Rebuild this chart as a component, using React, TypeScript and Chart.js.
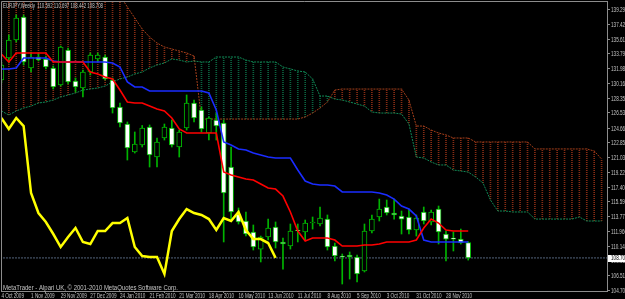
import React, { useEffect, useRef } from 'react';
import { Chart, registerables } from 'chart.js';
Chart.register(...registerables);

const TITLE = 'EURJPY,Weekly  110.592 110.697 108.442 108.708';
const FOOTER = 'MetaTrader - Alpari UK, \u00a9 2001-2010 MetaQuotes Software Corp.';

const DATE_TICK_INDEX = [0, 4, 8, 12, 16, 20, 24, 28, 32, 36, 40, 44, 48, 52, 56, 60];
const DATE_LABELS = ['4 Oct 2009', '1 Nov 2009', '29 Nov 2009', '27 Dec 2009', '24 Jan 2010', '21 Feb 2010', '21 Mar 2010', '18 Apr 2010', '16 May 2010', '13 Jun 2010', '11 Jul 2010', '8 Aug 2010', '5 Sep 2010', '3 Oct 2010', '31 Oct 2010', '28 Nov 2010'];

const Y_TICKS = [139.29, 137.425, 135.61, 133.795, 131.98, 130.165, 128.35, 126.535, 124.665, 122.85, 121.035, 119.22, 117.405, 115.59, 113.775, 111.96, 110.145, 108.33, 106.515, 104.7];
const CURRENT = 108.708;

const OPEN = [130.59,133.30,135.51,138.34,132.07,133.42,133.18,132.07,129.98,134.28,
130.47,129.61,131.58,133.18,133.42,130.59,127.27,125.18,121.74,122.60,
124.81,121.12,123.46,124.69,122.35,124.69,127.76,126.90,124.07,125.67,
125.30,119.89,114.11,113.25,111.90,109.80,111.28,112.51,110.67,110.17,
112.14,111.90,113.00,112.88,113.49,110.17,108.94,109.07,108.82,107.10,
112.02,113.74,114.97,114.23,113.86,113.74,112.14,114.36,113.13,114.72,
111.65,111.10,111.03,110.592];
const HIGH = [132.81,136.13,138.59,138.59,134.04,133.91,133.54,132.32,134.77,134.53,
130.84,131.82,133.91,133.91,133.67,130.84,127.76,125.43,124.20,125.00,
125.06,123.46,125.18,125.67,124.44,128.75,128.13,127.27,126.04,126.53,
125.67,122.35,114.85,114.36,112.76,111.40,113.49,113.13,111.16,112.88,
112.88,113.37,113.74,114.97,113.99,110.54,109.19,109.44,109.07,112.88,
113.99,115.95,115.83,115.95,114.48,114.72,113.99,114.97,114.60,115.09,
112.02,111.90,112.26,110.697];
const LOW = [130.22,132.69,135.27,132.44,131.58,132.93,131.95,129.48,129.85,130.10,
129.12,128.50,131.21,132.81,130.59,126.53,124.81,120.75,121.61,122.35,
119.89,119.89,123.21,122.35,121.12,124.44,125.43,124.20,123.21,123.21,
110.67,113.49,112.88,111.40,109.68,108.21,110.91,109.93,107.34,109.80,
110.67,110.91,112.26,112.63,109.68,108.33,105.50,106.11,105.75,106.98,
111.77,113.25,113.99,113.49,111.65,111.65,111.40,112.88,112.76,110.42,
108.33,109.56,110.42,108.442];
const CLOSE = [132.44,135.51,138.22,132.81,133.42,133.05,132.19,129.73,134.65,130.35,
129.73,131.58,133.67,133.67,130.72,127.15,125.30,122.23,122.72,124.69,
121.37,122.97,124.81,122.60,124.20,127.76,125.92,124.57,125.92,124.93,
116.69,114.36,113.13,111.65,110.05,111.28,112.39,110.67,110.42,112.02,
112.02,113.00,113.00,113.62,110.05,108.94,108.82,108.82,106.73,112.02,
113.49,114.72,114.23,113.99,113.49,112.14,113.62,113.25,114.36,111.90,
111.03,111.03,110.54,108.708];

const TENKAN = [133.79,132.81,133.91,133.91,133.91,133.91,133.91,132.81,132.81,132.81,
132.81,132.81,131.58,131.33,130.96,130.72,129.36,127.89,127.76,127.76,
127.39,127.02,126.78,125.92,124.57,124.07,124.07,124.07,124.07,124.07,
119.28,118.91,118.66,118.41,118.29,117.80,117.31,117.18,116.32,114.36,
112.02,110.79,111.16,111.16,111.16,110.91,110.17,110.17,110.17,110.30,
110.30,110.42,110.67,110.67,110.67,110.67,110.91,112.39,113.49,113.00,
112.14,112.02,112.02,112.02];
const KIJUN = [131.95,131.95,132.07,133.30,133.30,133.30,133.30,132.93,132.81,132.81,
132.81,132.81,132.81,132.81,132.81,132.69,132.19,130.35,129.73,129.73,
129.24,129.24,129.24,129.24,129.24,129.24,129.24,129.24,128.99,126.90,
122.97,122.60,122.11,121.98,121.61,121.37,121.12,121.00,121.00,121.00,
119.52,118.17,117.80,117.68,117.68,117.55,116.82,116.82,116.82,116.82,
116.82,116.69,116.45,115.95,115.09,114.72,113.86,110.91,110.67,110.67,
110.67,110.67,110.67,110.67];
const CHIKOU = [125.92,124.57,125.92,124.93,116.69,114.23,113.13,111.65,110.05,111.28,
112.39,110.67,110.42,112.02,112.02,113.00,113.00,113.62,110.05,108.94,
108.82,108.82,106.73,112.02,113.49,114.72,114.23,113.99,113.49,112.14,
113.62,113.25,114.36,112.14,111.03,111.03,110.54,108.71];
const SPAN_A = [126.78,126.29,126.78,127.15,127.39,127.76,127.89,128.13,128.50,128.75,
128.99,129.36,129.48,129.61,129.85,130.35,130.72,130.96,131.33,131.58,
132.07,132.44,132.69,133.18,133.05,132.81,132.93,132.81,132.81,133.42,
133.42,133.42,133.42,133.05,132.81,132.81,132.81,132.81,132.19,131.95,
131.70,131.58,130.72,128.62,128.62,128.25,128.13,127.89,127.64,127.39,
126.66,126.53,126.53,126.53,126.41,125.18,121.12,121.00,120.51,120.14,
120.14,119.52,119.40,119.27,118.66,117.92,115.83,114.48,114.48,114.36,
114.36,114.36,113.49,113.49,113.49,113.49,113.49,113.49,113.74,113.25,
113.25,113.25];
const SPAN_B = [142.00,142.00,142.00,142.00,142.00,142.00,142.00,142.00,142.00,142.00,
142.00,142.00,142.00,142.00,142.00,141.60,141.00,139.57,138.22,136.86,
135.88,135.14,134.65,134.40,134.16,133.91,133.54,125.79,125.79,125.79,
125.79,125.79,125.79,125.79,125.79,125.79,125.79,125.79,125.79,125.79,
125.79,126.04,126.53,127.15,127.89,129.36,129.48,129.48,129.48,129.48,
129.48,129.48,129.48,129.48,129.48,128.13,124.93,124.93,124.44,124.07,
123.83,123.46,123.46,123.46,122.97,122.97,122.97,122.97,122.97,122.97,
122.97,122.97,122.11,122.11,122.11,122.11,122.11,122.11,122.11,122.11,
121.86,120.87];

const GREEN = '#00b400';
const TEXT = '#c4c4c4';
const FONT = '7px "Liberation Sans", Arial, sans-serif';
const SQUEEZE = 0.66;

function makePattern(color: string): CanvasPattern {
  const c = document.createElement('canvas');
  c.width = 1;
  c.height = 2;
  const g = c.getContext('2d')!;
  g.fillStyle = color;
  g.fillRect(0, 0, 1, 1);
  return g.createPattern(c, 'repeat')!;
}

function drawText(ctx: CanvasRenderingContext2D, text: string, x: number, y: number, sx: number, color = TEXT, baseline: CanvasTextBaseline = 'alphabetic') {
  ctx.save();
  ctx.font = FONT;
  ctx.fillStyle = color;
  ctx.textBaseline = baseline;
  ctx.textAlign = 'left';
  ctx.translate(x, y);
  ctx.scale(sx, 1);
  ctx.fillText(text, 0, 0);
  ctx.restore();
}

function drawFitText(ctx: CanvasRenderingContext2D, text: string, x: number, y: number, width: number) {
  ctx.save();
  ctx.font = FONT;
  const w = ctx.measureText(text).width;
  ctx.restore();
  drawText(ctx, text, x, y, width / w);
}

const decor = {
  id: 'decor',
  beforeDraw(chart: any) {
    const { ctx, width, height } = chart;
    ctx.save();
    ctx.fillStyle = '#000';
    ctx.fillRect(0, 0, width, height);
    ctx.restore();
  },
  afterDraw(chart: any) {
    const { ctx, chartArea } = chart;
    ctx.save();
    ctx.strokeStyle = '#8c8c8c';
    ctx.lineWidth = 1;
    ctx.beginPath();
    ctx.moveTo(chartArea.left + 0.5, chartArea.bottom);
    ctx.lineTo(chartArea.left + 0.5, chartArea.top + 0.5);
    ctx.lineTo(chartArea.right, chartArea.top + 0.5);
    ctx.stroke();
    ctx.restore();

    const xs = chart.scales.x;
    xs.ticks.forEach((t: any) => {
      const k = DATE_TICK_INDEX.indexOf(t.value);
      if (k < 0) return;
      drawText(ctx, DATE_LABELS[k], xs.getPixelForValue(t.value), 298, SQUEEZE);
    });

    const ys = chart.scales.y;
    const lx = chartArea.right + 4;
    ys.ticks.forEach((t: any) => {
      const py = ys.getPixelForValue(t.value);
      const label = Number(t.value).toFixed(3);
      if (t.value === CURRENT) {
        ctx.save();
        ctx.fillStyle = '#ffffff';
        ctx.fillRect(chartArea.right + 1, Math.round(py) - 3, 24, 7);
        ctx.restore();
        drawText(ctx, label, lx, py + 0.5, SQUEEZE, '#000000', 'middle');
      } else {
        drawText(ctx, label, lx, py + 0.5, SQUEEZE, TEXT, 'middle');
      }
    });

    drawFitText(ctx, TITLE, 3, 8, 100);
    drawFitText(ctx, FOOTER, 3, 290, 175);
  },
};

export default function App() {
  const ref = useRef<HTMLCanvasElement>(null);
  useEffect(() => {
    const canvas = ref.current!;
    const greenPat = makePattern('#0a6440');
    const brownPat = makePattern('#862c14');
    const xy = (arr: number[]) => arr.map((v, i) => ({ x: i, y: v }));

    const chart = new Chart(canvas, {
      type: 'bar',
      data: {
        datasets: [
          {
            type: 'line',
            label: 'Chikou',
            data: xy(CHIKOU),
            borderColor: '#ffff00',
            borderWidth: 2.5,
            pointRadius: 0,
            tension: 0,
            order: 1,
          } as any,
          {
            type: 'line',
            label: 'Tenkan',
            data: xy(TENKAN),
            borderColor: '#ff0000',
            borderWidth: 1.6,
            pointRadius: 0,
            tension: 0,
            order: 2,
          },
          {
            type: 'line',
            label: 'Kijun',
            data: xy(KIJUN),
            borderColor: '#1a2cff',
            borderWidth: 1.6,
            pointRadius: 0,
            tension: 0,
            order: 3,
          },
          {
            type: 'bar',
            label: 'Body',
            data: OPEN.map((o, i) => ({ x: i, y: [o, CLOSE[i]] })),
            backgroundColor: (c: any) => (CLOSE[c.dataIndex] < OPEN[c.dataIndex] ? '#ffffff' : '#000000'),
            borderColor: GREEN,
            borderWidth: 1,
            borderSkipped: false,
            barThickness: 5,
            minBarLength: 1,
            grouped: false,
            order: 6,
          } as any,
          {
            type: 'bar',
            label: 'Wick',
            data: LOW.map((l, i) => ({ x: i, y: [l, HIGH[i]] })),
            backgroundColor: GREEN,
            barThickness: 1,
            grouped: false,
            order: 7,
          } as any,
          {
            type: 'line',
            label: 'Bid',
            data: [{ x: -1, y: CURRENT }, { x: 83, y: CURRENT }],
            borderColor: '#55657e',
            borderWidth: 1,
            borderDash: [2, 1],
            pointRadius: 0,
            order: 8,
          },
          {
            type: 'line',
            label: 'Span A',
            data: xy(SPAN_A),
            borderColor: '#108a56',
            borderWidth: 1,
            borderDash: [2, 1],
            pointRadius: 0,
            tension: 0,
            order: 9,
          },
          {
            type: 'line',
            label: 'Span B',
            data: xy(SPAN_B),
            borderColor: '#a23e1a',
            borderWidth: 1,
            borderDash: [2, 1],
            pointRadius: 0,
            tension: 0,
            order: 9,
          },
          {
            type: 'bar',
            label: 'Kumo',
            data: SPAN_A.map((a, i) => ({ x: i, y: [Math.min(a, SPAN_B[i]), Math.max(a, SPAN_B[i])] })),
            backgroundColor: (c: any) => (SPAN_A[c.dataIndex] >= SPAN_B[c.dataIndex] ? greenPat : brownPat),
            barThickness: 1,
            grouped: false,
            order: 10,
          } as any,
        ],
      },
      options: {
        responsive: false,
        devicePixelRatio: 1,
        animation: false,
        events: [],
        layout: { padding: { left: 1, top: 1, right: 0, bottom: 0 } },
        plugins: { legend: { display: false }, tooltip: { enabled: false }, title: { display: false } },
        scales: {
          x: {
            type: 'linear',
            min: -0.054,
            max: 81.73,
            offset: false,
            afterBuildTicks: (scale: any) => {
              scale.ticks = DATE_TICK_INDEX.map((v) => ({ value: v }));
            },
            afterFit: (scale: any) => {
              scale.height = 8;
            },
            ticks: { display: false, autoSkip: false, maxRotation: 0, minRotation: 0 },
            grid: { drawOnChartArea: false, drawTicks: true, tickLength: 2, color: '#8c8c8c' },
            border: { display: true, color: '#8c8c8c' },
          } as any,
          y: {
            type: 'linear',
            position: 'right',
            min: 104.64,
            max: 140.31,
            afterBuildTicks: (scale: any) => {
              scale.ticks = [...Y_TICKS, CURRENT].map((v) => ({ value: v }));
            },
            afterFit: (scale: any) => {
              scale.width = 18;
            },
            ticks: { display: false, autoSkip: false },
            grid: { drawOnChartArea: false, drawTicks: true, tickLength: 3, color: '#8c8c8c' },
            border: { display: true, color: '#8c8c8c' },
          } as any,
        },
      },
      plugins: [decor],
    } as any);
    return () => chart.destroy();
  }, []);

  return (
    <div style={{ position: 'fixed', left: 0, top: 0, width: 625, height: 299, background: '#000' }}>
      <canvas ref={ref} width={625} height={299} style={{ display: 'block', width: 625, height: 299 }} />
    </div>
  );
}
